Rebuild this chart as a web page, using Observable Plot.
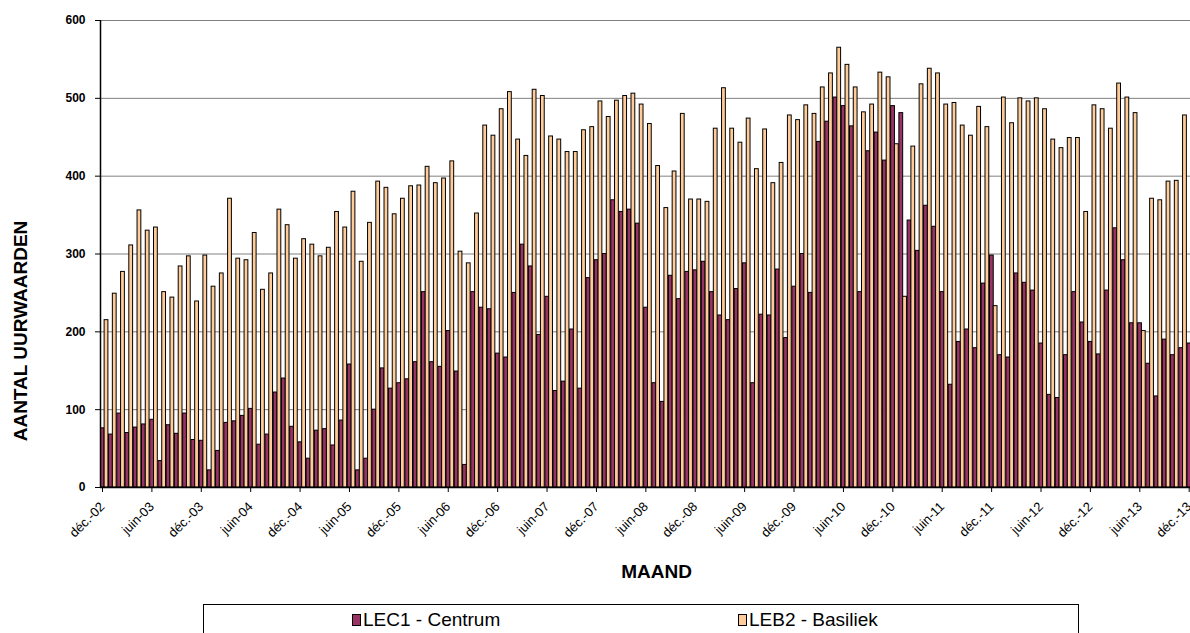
<!DOCTYPE html>
<html>
<head>
<meta charset="utf-8">
<script src="https://cdn.jsdelivr.net/npm/d3@7"></script>
<script src="https://cdn.jsdelivr.net/npm/@observablehq/plot@0.6"></script>
<style>
  body { margin: 0; background: #fff; }
  #wrap { position: relative; width: 1190px; height: 633px; overflow: hidden; background: #fff; }
  #legend { position: absolute; left: 203px; top: 604px; width: 876px; height: 60px; border: 1px solid #000; box-sizing: border-box; font-family: "Liberation Sans", Arial, sans-serif; font-size: 19px; color: #000; }
  .item { position: absolute; top: 4px; display: flex; align-items: center; line-height: 21px; }
  .sw { width: 9px; height: 12px; border: 1px solid #000; box-sizing: border-box; margin-right: 2px; }
</style>
</head>
<body>
<div id="wrap">
  <div id="chart"></div>
  <div id="legend"></div>
</div>
<script>
// Series names and colours
const seriesNames = ["LEC1 - Centrum", "LEB2 - Basiliek"];
const seriesColors = ["#993366", "#FFCC99"];

// Monthly values, déc-02 ... déc-13 (133 months)
const lec1 = [
  76, 68, 95, 70, 77, 81, 87, 34, 80, 69, 95, 61,
  60, 22, 47, 83, 85, 92, 101, 55, 68, 122, 140, 78,
  58, 37, 73, 75, 54, 86, 158, 22, 37, 100, 153, 127,
  134, 139, 161, 251, 161, 155, 201, 149, 29, 251, 231, 229,
  172, 167, 250, 312, 284, 196, 245, 124, 136, 203, 127, 269,
  292, 300, 369, 354, 357, 339, 231, 134, 110, 272, 242, 277,
  279, 290, 251, 221, 215, 255, 288, 134, 222, 221, 280, 192,
  258, 300, 250, 444, 470, 501, 490, 464, 251, 432, 456, 420,
  490, 481, 343, 304, 362, 335, 251, 132, 187, 203, 179, 262,
  298, 170, 167, 275, 263, 253, 185, 119, 115, 170, 251, 212,
  187, 171, 253, 333, 292, 211, 211, 159, 117, 190, 170, 179,
  185
];
const leb2 = [
  215, 249, 277, 311, 356, 330, 334, 251, 244, 284, 297, 239,
  298, 258, 275, 371, 294, 292, 327, 254, 275, 357, 337, 294,
  319, 312, 297, 308, 354, 334, 380, 290, 340, 393, 385, 351,
  371, 387, 388, 412, 391, 397, 419, 303, 288, 352, 465, 452,
  486, 508, 447, 426, 511, 503, 451, 447, 431, 431, 459, 463,
  496, 476, 497, 503, 506, 492, 467, 413, 359, 406, 480, 370,
  370, 367, 461, 513, 461, 443, 474, 409, 460, 391, 417, 478,
  472, 491, 480, 514, 532, 565, 543, 514, 482, 492, 533, 527,
  441, 245, 438, 518, 538, 532, 492, 494, 465, 452, 489, 463,
  233, 501, 468, 500, 496, 500, 486, 447, 436, 449, 449, 354,
  491, 486, 461, 519, 501, 481, 201, 371, 369, 393, 394, 478,
  null
];
// Tick labels, one every 6 months
const tickLabels = [
  "déc.-02", "juin-03", "déc.-03", "juin-04", "déc.-04", "juin-05", "déc.-05",
  "juin-06", "déc.-06", "juin-07", "déc.-07", "juin-08", "déc.-08", "juin-09",
  "déc.-09", "juin-10", "déc.-10", "juin-11", "déc.-11", "juin-12", "déc.-12",
  "juin-13", "déc.-13"
];
const yTicks = [0, 100, 200, 300, 400, 500, 600];

// Build table
const rows = [];
lec1.forEach((v, i) => { if (v != null) rows.push({i, s: 0, v}); });
leb2.forEach((v, i) => { if (v != null) rows.push({i, s: 1, v}); });
const tickIdx = tickLabels.map((_, k) => k * 6);

const W = 1190, H = 633;
const mL = 100, mT = 20, mB = 146, mR = 0;
const pxPerMonth = 8.2325;
const xMax = (W - mL - mR) / pxPerMonth;

const font = "'Liberation Sans', Arial, sans-serif";

const chart = Plot.plot({
  width: W,
  height: H,
  marginLeft: mL,
  marginRight: mR,
  marginTop: mT,
  marginBottom: mB,
  style: { fontFamily: font, background: "#fff", color: "#000" },
  x: { type: "linear", domain: [0, xMax] },
  y: { domain: [0, 600] },
  marks: [
    Plot.ruleY(yTicks.filter(d => d > 0), { stroke: "#808080", strokeWidth: 1 }),
    Plot.rectY(rows, {
      x1: d => d.i + (d.s === 0 ? 0.04 : 0.5),
      x2: d => d.i + (d.s === 0 ? 0.5 : 0.96),
      y1: 0,
      y2: "v",
      fill: d => seriesColors[d.s],
      stroke: "#000",
      strokeWidth: 1,
      clip: true
    }),
    Plot.ruleY([0], { stroke: "#000", strokeWidth: 1.5 }),
    Plot.ruleX([0], { stroke: "#000", strokeWidth: 1.5 }),
    Plot.axisY({
      ticks: yTicks,
      tickSize: 5,
      tickPadding: 10,
      tickFormat: d => String(d),
      fontSize: 12,
      fontWeight: "bold",
      label: null
    }),
    Plot.axisX({
      ticks: tickIdx,
      tickSize: 5,
      tickPadding: 12,
      tickRotate: -45,
      dx: 2,
      tickFormat: d => tickLabels[Math.round(d / 6)],
      fontSize: 13,
      label: null
    }),
    Plot.text(["MAAND"], {
      frameAnchor: "bottom",
      dx: 11,
      dy: 90,
      fontSize: 19,
      fontWeight: "bold"
    }),
    Plot.text(["AANTAL UURWAARDEN"], {
      frameAnchor: "left",
      textAnchor: "middle",
      rotate: -90,
      dx: -80,
      dy: 77,
      fontSize: 19,
      fontWeight: "bold"
    })
  ]
});
document.getElementById("chart").appendChild(chart);

// Legend
const legend = document.getElementById("legend");
const itemX = [148, 534];
seriesNames.forEach((name, k) => {
  const it = document.createElement("div");
  it.className = "item";
  it.style.left = itemX[k] + "px";
  const sw = document.createElement("div");
  sw.className = "sw";
  sw.style.background = seriesColors[k];
  const tx = document.createElement("span");
  tx.textContent = name;
  it.appendChild(sw);
  it.appendChild(tx);
  legend.appendChild(it);
});
</script>
</body>
</html>
